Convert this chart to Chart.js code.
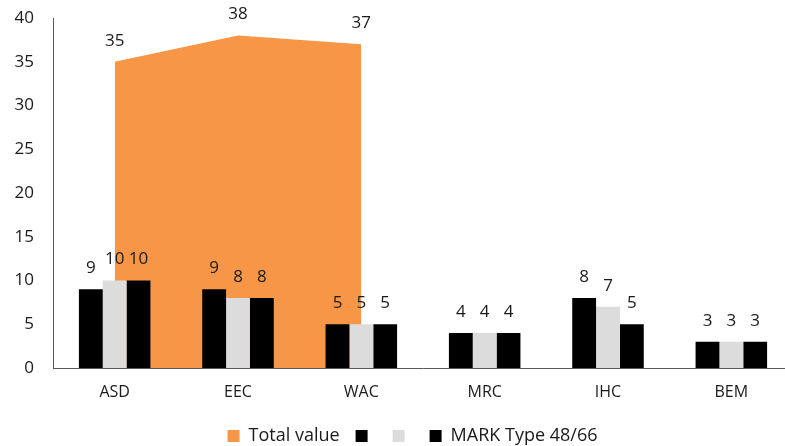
<!DOCTYPE html>
<html>
<head>
<meta charset="utf-8">
<script src="https://cdn.jsdelivr.net/npm/chart.js@4/dist/chart.umd.min.js"></script>
<style>
  html, body { margin: 0; padding: 0; background: #ffffff; overflow: hidden; }
  #wrap { position: relative; width: 795px; height: 456px; }
</style>
</head>
<body>
<div id="wrap"><canvas id="chart"></canvas></div>
<script>
const categories = ['ASD', 'EEC', 'WAC', 'MRC', 'IHC', 'BEM'];
const totalValue = [35, 38, 37, null, null, null];
const markFirst = [9, 9, 5, 4, 8, 3];
const markSecond = [10, 8, 5, 4, 7, 3];
const markType = [10, 8, 5, 4, 5, 3];
const yTicks = [0, 5, 10, 15, 20, 25, 30, 35, 40];

const FONT = '"Open Sans", "Liberation Sans", sans-serif';
const TEXT = '#1a1a1a';

// Writes each value just above its bar or area corner
const valueLabels = {
  id: 'valueLabels',
  afterDatasetsDraw(chart) {
    const ctx = chart.ctx;
    ctx.save();
    ctx.font = '17px ' + FONT;
    ctx.fillStyle = TEXT;
    ctx.textAlign = 'center';
    ctx.textBaseline = 'middle';
    chart.data.datasets.forEach((ds, i) => {
      const meta = chart.getDatasetMeta(i);
      meta.data.forEach((el, j) => {
        const v = ds.data[j];
        if (v === null || v === undefined) return;
        ctx.fillText(String(v), el.x, el.y - 21);
      });
    });
    ctx.restore();
  }
};

// Nudges the legend row a little to the right of the canvas centre
const legendOffset = {
  id: 'legendOffset',
  afterLayout(chart) {
    chart.legend.left += 16;
    chart.legend.right += 16;
  }
};

new Chart(document.getElementById('chart'), {
  type: 'bar',
  data: {
    labels: categories,
    datasets: [
      {
        type: 'line',
        label: 'Total value',
        data: totalValue,
        backgroundColor: '#f79646',
        borderColor: '#f79646',
        borderWidth: 0,
        pointRadius: 0,
        fill: 'origin',
        tension: 0,
        order: 2
      },
      { label: '', data: markFirst, backgroundColor: '#000000', order: 1 },
      { label: '', data: markSecond, backgroundColor: '#dcdcdc', order: 1 },
      { label: 'MARK Type 48/66', data: markType, backgroundColor: '#000000', order: 1 }
    ]
  },
  options: {
    responsive: true,
    maintainAspectRatio: false,
    animation: false,
    devicePixelRatio: 1,
    datasets: { bar: { categoryPercentage: 0.58, barPercentage: 1.0 } },
    layout: { padding: { left: 0, right: 2, top: 18, bottom: 1 } },
    plugins: {
      tooltip: { enabled: false },
      legend: {
        position: 'bottom',
        labels: {
          boxWidth: 12,
          boxHeight: 12,
          padding: 16,
          color: TEXT,
          font: { family: FONT, size: 18 },
          sort: (a, b) => a.datasetIndex - b.datasetIndex
        }
      }
    },
    scales: {
      x: {
        afterFit: (scale) => { scale.height = 43; },
        grid: { display: false, drawTicks: false },
        border: { display: true, color: '#595959', width: 1 },
        ticks: { color: TEXT, font: { family: FONT, size: 16 }, padding: 15 }
      },
      y: {
        min: 0,
        max: 40,
        afterBuildTicks: (scale) => { scale.ticks = yTicks.map(v => ({ value: v })); },
        afterFit: (scale) => { scale.width = 53; },
        grid: { display: false, drawTicks: true, tickLength: 12 },
        border: { display: true, color: '#595959', width: 1 },
        ticks: { color: TEXT, font: { family: FONT, size: 17 }, padding: 7 }
      }
    }
  },
  plugins: [valueLabels, legendOffset]
});
</script>
</body>
</html>
